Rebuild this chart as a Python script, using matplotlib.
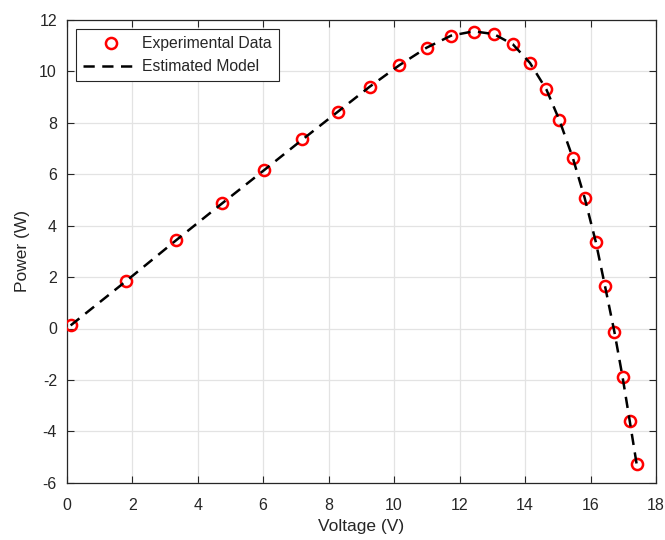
import matplotlib
matplotlib.use('Agg')
import matplotlib.pyplot as plt

# --- data ---
voltage = [0.12, 1.81, 3.33, 4.73, 6.02, 7.20, 8.28, 9.25, 10.16, 10.99,
           11.74, 12.43, 13.05, 13.63, 14.15, 14.65, 15.05, 15.46, 15.82,
           16.16, 16.44, 16.73, 16.98, 17.20, 17.41]
power_exp = [0.13, 1.86, 3.46, 4.88, 6.17, 7.37, 8.44, 9.41, 10.25, 10.91,
             11.38, 11.55, 11.46, 11.07, 10.34, 9.32, 8.12, 6.65, 5.09,
             3.38, 1.67, -0.13, -1.89, -3.61, -5.28]
power_model = [0.12, 1.84, 3.42, 4.85, 6.15, 7.35, 8.43, 9.40, 10.24, 10.92,
               11.39, 11.56, 11.45, 11.05, 10.33, 9.30, 8.10, 6.63, 5.08,
               3.37, 1.66, -0.14, -1.90, -3.62, -5.29]

xticks = list(range(0, 19, 2))
yticks = list(range(-6, 13, 2))

plt.rcParams['font.family'] = ['Liberation Sans', 'DejaVu Sans']
plt.rcParams['axes.unicode_minus'] = False
txt = '#262626'

fig = plt.figure(figsize=(6.65, 5.40), dpi=100)
ax = fig.add_axes([0.1003, 0.106, 0.8862, 0.857])

ax.plot(voltage, power_exp, linestyle='none', marker='o', markersize=8,
        markerfacecolor='none', markeredgecolor='#ff0000', markeredgewidth=1.8,
        label='Experimental Data', zorder=3)
ax.plot(voltage, power_model, color='black', linestyle=(0, (4.5, 3)),
        linewidth=1.8, label='Estimated Model', zorder=4)

ax.set_xlim(0, 18)
ax.set_ylim(-6, 12)
ax.set_xticks(xticks)
ax.set_yticks(yticks)
ax.grid(True, color='#e3e3e3', linewidth=0.9)
ax.set_axisbelow(True)

ax.tick_params(direction='in', top=True, right=True, length=5,
               labelsize=11.5, colors=txt, width=0.8)
ax.tick_params(axis='x', pad=11)
ax.tick_params(axis='y', pad=7)
for s in ax.spines.values():
    s.set_color('#262626')
    s.set_linewidth(0.9)

ax.set_xlabel('Voltage (V)', fontsize=12.5, color=txt, labelpad=4)
ax.set_ylabel('Power (W)', fontsize=12.5, color=txt, labelpad=7)

leg = ax.legend(loc='upper left', fontsize=11.3, handlelength=3.5,
                handletextpad=0.25, borderpad=0.45, labelspacing=0.5,
                fancybox=False, framealpha=1, edgecolor='#262626',
                borderaxespad=0.6)
leg.get_frame().set_linewidth(0.8)
for t in leg.get_texts():
    t.set_color(txt)

fig.savefig('out.png', dpi=100)
